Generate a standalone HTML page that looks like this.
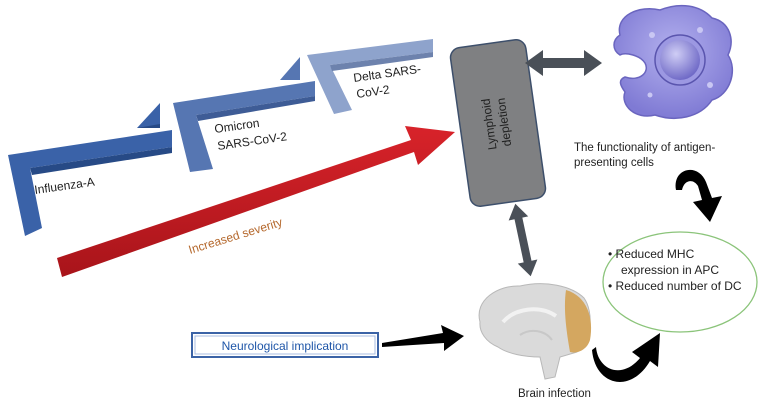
<!DOCTYPE html>
<html><head><meta charset="utf-8"><style>
html,body{margin:0;padding:0;background:#fff;width:762px;height:406px;overflow:hidden}
svg{display:block;font-family:"Liberation Sans",sans-serif}
</style></head><body>
<svg width="762" height="406" viewBox="0 0 762 406">
<defs>
<linearGradient id="red" x1="0" y1="1" x2="0" y2="0"><stop offset="0" stop-color="#a8141a"/><stop offset="1" stop-color="#d8232a"/></linearGradient>
<radialGradient id="cell" cx="0.5" cy="0.4" r="0.6"><stop offset="0" stop-color="#b3b0ee"/><stop offset="1" stop-color="#7f7ad4"/></radialGradient>
<radialGradient id="nuc" cx="0.4" cy="0.35" r="0.7"><stop offset="0" stop-color="#cfcdf5"/><stop offset="1" stop-color="#6a64c4"/></radialGradient>
</defs>
<polygon points="8,155 172,130 172,147 30,168 42,228 25,236" fill="#3a62a8"/>
<polygon points="30,168 172,147 172,153 32,175" fill="#274a86"/>
<polygon points="137,128 160,103 160,128" fill="#3a62a8"/>
<polygon points="137,128 160,124 160,128" fill="#274a86"/>
<polygon points="173,103 315,81 315,96 196,115 213,169 190,172" fill="#5676b2"/>
<polygon points="196,115 315,96 315,101 198,121" fill="#3e5c96"/>
<polygon points="280,80 300,57 300,80" fill="#5676b2"/>
<polygon points="307,55 433,39 433,52 330,65 352,110 334,114" fill="#8ea3cc"/>
<polygon points="330,65 433,52 433,57 332,71" fill="#6d82ad"/>
<text x="35" y="194" font-size="12" fill="#222" transform="rotate(-8 35 194)">Influenza-A</text>
<text x="215" y="133" font-size="12" fill="#222" transform="rotate(-8 215 133)">Omicron</text>
<text x="218" y="150" font-size="12" fill="#222" transform="rotate(-8 218 150)">SARS-CoV-2</text>
<text x="354" y="82" font-size="12" fill="#222" transform="rotate(-8 354 82)">Delta SARS-</text>
<text x="357" y="98" font-size="12" fill="#222" transform="rotate(-8 357 98)">CoV-2</text>
<polygon points="57,258 411,140 405,126 455,132 418,165 414,152 62,277" fill="url(#red)"/>
<text x="190" y="254" font-size="12" fill="#b5692e" transform="rotate(-17 190 254)">Increased severity</text>
<g transform="translate(498,123) rotate(-8)">
<rect x="-38" y="-80" width="76" height="160" rx="10" fill="#7f8082" stroke="#3d4f6b" stroke-width="1.5"/>
<text transform="rotate(-90)" x="0" y="-5" font-size="12" text-anchor="middle" fill="#222">Lymphoid</text>
<text transform="rotate(-90)" x="0" y="10" font-size="12" text-anchor="middle" fill="#222">depletion</text>
</g>
<polygon points="525,63 543,50 543,58 584,58 584,50 602,63 584,76 584,68 543,68 543,76" fill="#4a5058"/>
<g transform="translate(523,240) rotate(-12)">
<polygon points="0,-37 10,-22 4,-22 4,22 10,22 0,37 -10,22 -4,22 -4,-22 -10,-22" fill="#4a5058"/>
</g>
<path d="M620,35 C615,15 640,5 660,10 C680,2 700,5 712,18 C730,22 735,40 728,55 C738,70 730,95 712,100 C700,118 675,122 655,115 C635,120 620,105 625,92 C620,85 618,80 625,77 C640,82 650,72 645,63 C640,55 625,52 620,55 C612,50 612,40 620,35 Z" fill="url(#cell)" stroke="#6a65bf" stroke-width="1.5"/>
<circle cx="680" cy="60" r="25" fill="#9c98e2" stroke="#5a55ae" stroke-width="1.5"/>
<circle cx="680" cy="60" r="20" fill="url(#nuc)"/>
<circle cx="652" cy="35" r="3" fill="#c9c7f3"/><circle cx="700" cy="30" r="3" fill="#c9c7f3"/><circle cx="710" cy="85" r="3" fill="#c9c7f3"/><circle cx="650" cy="95" r="2.5" fill="#c9c7f3"/>
<text x="574" y="151" font-size="11.5" fill="#222">The functionality of antigen-</text>
<text x="574" y="166" font-size="11.5" fill="#222">presenting cells</text>
<path d="M676,190 C672,168 698,162 706,182 L712,198 L722,196 L710,222 L693,202 L702,200 L698,186 C693,178 684,180 682,190 Z" fill="#000"/>
<ellipse cx="680" cy="282" rx="77" ry="50" fill="#fff" stroke="#8bc47a" stroke-width="1.3"/>
<text x="608" y="258" font-size="12" fill="#222">• Reduced MHC</text>
<text x="621" y="274" font-size="12" fill="#222">expression in APC</text>
<text x="608" y="290" font-size="12" fill="#222">• Reduced number of DC</text>
<path d="M480,322 C474,300 498,285 520,286 C545,280 572,286 584,298 C594,312 592,342 577,352 L560,357 L555,377 L545,379 L540,357 C525,357 508,354 498,347 C486,342 479,332 480,322 Z" fill="#dadada" stroke="#b8b8b8"/>
<path d="M566,290 C587,296 594,318 590,340 C587,350 577,354 570,352 C567,335 563,310 566,290 Z" fill="#d4a760"/>
<path d="M503,322 C515,308 540,305 556,316" fill="none" stroke="#f2f2f2" stroke-width="4"/>
<path d="M520,335 C530,328 545,330 552,340" fill="none" stroke="#c8c8c8" stroke-width="2"/>
<text x="518" y="397" font-size="11.5" fill="#222">Brain infection</text>
<rect x="192" y="333" width="186" height="24" fill="#fff" stroke="#3b63a6" stroke-width="2"/>
<rect x="195" y="336" width="180" height="18" fill="none" stroke="#a9bde0" stroke-width="1"/>
<text x="285" y="350" font-size="12" fill="#1f56a8" text-anchor="middle">Neurological implication</text>
<polygon points="382,343 443,333 441,325 464,336 444,351 444,343 382,347" fill="#000"/>
<path d="M596,347 C598,370 622,380 640,358 L632,352 L660,333 L658,367 L650,361 C630,395 595,385 592,350 Z" fill="#000"/>
</svg>
</body></html>
